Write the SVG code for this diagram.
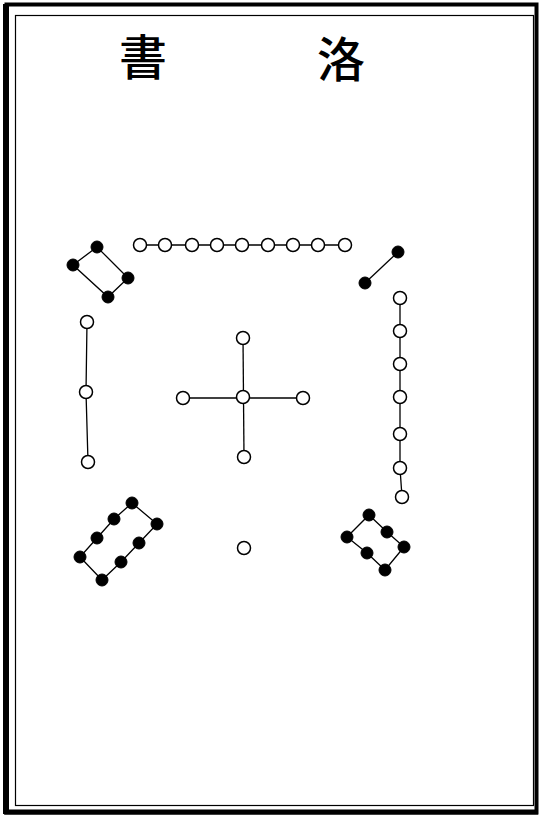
<svg xmlns="http://www.w3.org/2000/svg" width="540" height="819" viewBox="0 0 540 819">
<style>
.w{fill:#fff;stroke:#000;stroke-width:1.5}
.b{fill:#000;stroke:#000;stroke-width:1}
.c line,.c polygon,.c polyline{stroke:#000;stroke-width:1.3;fill:none}
.t{font-family:"Noto Sans CJK TC","Noto Sans CJK SC",serif;font-size:48px;font-weight:500;fill:#000;text-anchor:middle}
</style>
<rect x="0" y="0" width="540" height="819" fill="#fff"/>
<g id="frame">
<rect x="6.5" y="4.5" width="530" height="808" fill="none" stroke="#000" stroke-width="4"/>
<line x1="6" y1="4" x2="6" y2="814" stroke="#000" stroke-width="6"/>
<line x1="4" y1="812" x2="538" y2="812" stroke="#000" stroke-width="5"/>
<rect x="15.5" y="15.5" width="518" height="790" fill="none" stroke="#000" stroke-width="1.2"/>
</g>
<g id="title">
<text class="t" x="143" y="75">書</text>
<text class="t" x="341" y="77">洛</text>
</g>
<g class="c" id="connectors">
<line x1="140" y1="245" x2="345" y2="245"/>
<polygon points="97,247 73,265 108,297 128,278"/>
<line x1="398" y1="252" x2="365" y2="283"/>
<polyline points="400,298 400,331 400,364 400,397 400,434 400,468 402,497"/>
<polyline points="87,322 86,392 88,462"/>
<line x1="243" y1="338" x2="244" y2="457"/>
<line x1="183" y1="398" x2="303" y2="398"/>
<polygon points="132,503 114,519 97,538 80,557 102,580 121,562 139,543 157,524"/>
<polygon points="369,515 387,532 404,547 385,570 367,553 347,537"/>
</g>
<g id="n9">
<circle class="w" cx="140" cy="245" r="6.5"/><circle class="w" cx="165" cy="245" r="6.5"/><circle class="w" cx="192" cy="245" r="6.5"/><circle class="w" cx="217" cy="245" r="6.5"/><circle class="w" cx="242" cy="245" r="6.5"/><circle class="w" cx="268" cy="245" r="6.5"/><circle class="w" cx="293" cy="245" r="6.5"/><circle class="w" cx="318" cy="245" r="6.5"/><circle class="w" cx="345" cy="245" r="6.5"/>
</g>
<g id="n4">
<circle class="b" cx="97" cy="247" r="6"/><circle class="b" cx="73" cy="265" r="6"/><circle class="b" cx="128" cy="278" r="6"/><circle class="b" cx="108" cy="297" r="6"/>
</g>
<g id="n2">
<circle class="b" cx="398" cy="252" r="6"/><circle class="b" cx="365" cy="283" r="6"/>
</g>
<g id="n7">
<circle class="w" cx="400" cy="298" r="6.5"/><circle class="w" cx="400" cy="331" r="6.5"/><circle class="w" cx="400" cy="364" r="6.5"/><circle class="w" cx="400" cy="397" r="6.5"/><circle class="w" cx="400" cy="434" r="6.5"/><circle class="w" cx="400" cy="468" r="6.5"/><circle class="w" cx="402" cy="497" r="6.5"/>
</g>
<g id="n3">
<circle class="w" cx="87" cy="322" r="6.5"/><circle class="w" cx="86" cy="392" r="6.5"/><circle class="w" cx="88" cy="462" r="6.5"/>
</g>
<g id="n5">
<circle class="w" cx="243" cy="338" r="6.5"/><circle class="w" cx="183" cy="398" r="6.5"/><circle class="w" cx="243" cy="397" r="6.5"/><circle class="w" cx="303" cy="398" r="6.5"/><circle class="w" cx="244" cy="457" r="6.5"/>
</g>
<g id="n1">
<circle class="w" cx="244" cy="548" r="6.5"/>
</g>
<g id="n8">
<circle class="b" cx="132" cy="503" r="6"/><circle class="b" cx="114" cy="519" r="6"/><circle class="b" cx="97" cy="538" r="6"/><circle class="b" cx="80" cy="557" r="6"/><circle class="b" cx="102" cy="580" r="6"/><circle class="b" cx="121" cy="562" r="6"/><circle class="b" cx="139" cy="543" r="6"/><circle class="b" cx="157" cy="524" r="6"/>
</g>
<g id="n6">
<circle class="b" cx="369" cy="515" r="6"/><circle class="b" cx="347" cy="537" r="6"/><circle class="b" cx="387" cy="532" r="6"/><circle class="b" cx="404" cy="547" r="6"/><circle class="b" cx="367" cy="553" r="6"/><circle class="b" cx="385" cy="570" r="6"/>
</g>
</svg>
